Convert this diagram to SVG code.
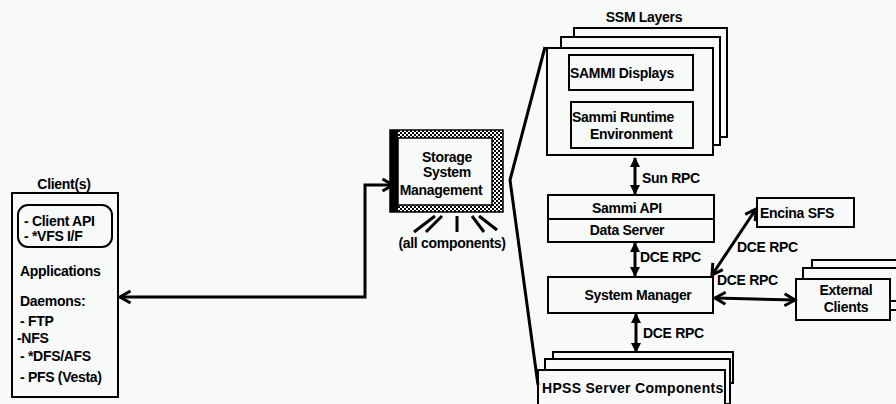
<svg xmlns="http://www.w3.org/2000/svg" width="896" height="404" viewBox="0 0 896 404">
<defs>
<style>
text{font-family:"Liberation Sans",Arial,sans-serif;font-weight:bold;font-size:14px;fill:#000;letter-spacing:-0.3px}
.c{text-anchor:middle}
.box{fill:#f8f9f9;stroke:#000;stroke-width:2}
.con{fill:none;stroke:#000;stroke-width:3}
</style>
<pattern id="chk" width="4" height="4" patternUnits="userSpaceOnUse">
<rect width="4" height="4" fill="#fff"/>
<rect width="2" height="2" fill="#000"/>
<rect x="2" y="2" width="2" height="2" fill="#000"/>
</pattern>
<marker id="chev" viewBox="0 0 10 10" refX="8" refY="5" markerWidth="5" markerHeight="5" orient="auto-start-reverse" markerUnits="strokeWidth">
<path d="M1,1 L8,5 L1,9" fill="none" stroke="#000" stroke-width="2"/>
</marker>
<marker id="tri" viewBox="0 0 10 10" refX="9" refY="5" markerWidth="3.5" markerHeight="3.5" orient="auto-start-reverse" markerUnits="strokeWidth">
<path d="M0,0 L10,5 L0,10 Z" fill="#000"/>
</marker>
</defs>
<rect width="896" height="404" fill="#f8f9f9"/>

<g id="clients">
<text x="64" y="189" class="c">Client(s)</text>
<rect class="box" x="12" y="193" width="106" height="204"/>
<rect class="box" x="18" y="205" width="94" height="42" rx="10"/>
<text x="24" y="226">- Client API</text>
<text x="24" y="241">- *VFS I/F</text>
<text x="20" y="276">Applications</text>
<text x="20" y="306">Daemons:</text>
<text x="20" y="326">- FTP</text>
<text x="17" y="343">-NFS</text>
<text x="20" y="361">- *DFS/AFS</text>
<text x="20" y="382">- PFS (Vesta)</text>
</g>

<g id="ssm">
<rect x="390" y="130" width="113" height="82" fill="url(#chk)" stroke="#000" stroke-width="1.5"/>
<rect x="390" y="130" width="8" height="82" fill="#000"/>
<rect x="398" y="138" width="94" height="67" fill="#f8f9f9" stroke="#000" stroke-width="1.5"/>
<text x="447" y="162" class="c">Storage</text>
<text x="447" y="177" class="c">System</text>
<text x="441" y="195" class="c">Management</text>
<g stroke="#000" stroke-width="3" fill="none">
<line x1="435" y1="216" x2="414" y2="232"/>
<line x1="442" y1="216" x2="426" y2="232"/>
<line x1="457" y1="216" x2="457" y2="232"/>
<line x1="472" y1="216" x2="484" y2="232"/>
<line x1="479" y1="216" x2="497" y2="230"/>
</g>
<text x="452" y="248" class="c">(all components)</text>
</g>

<g id="ssm-layers">
<text x="644" y="22" class="c">SSM Layers</text>
<rect class="box" x="574" y="28" width="153" height="109"/>
<rect class="box" x="561" y="37" width="159" height="108"/>
<rect class="box" x="547" y="48" width="166" height="107"/>
</g>
<g id="sammi-displays">
<rect class="box" x="569" y="55" width="124" height="35"/>
<text x="570" y="78">SAMMI Displays</text>
</g>
<g id="sammi-runtime">
<rect class="box" x="571" y="102" width="122" height="46"/>
<text x="572" y="122">Sammi Runtime</text>
<text x="590" y="139">Environment</text>
</g>

<g id="sammi-api">
<rect class="box" x="548" y="195" width="166" height="47"/>
<line x1="548" y1="219" x2="714" y2="219" stroke="#000" stroke-width="2"/>
<text x="627" y="213" class="c">Sammi API</text>
<text x="627" y="235" class="c">Data Server</text>
</g>

<g id="system-manager">
<rect class="box" x="548" y="277" width="165" height="36"/>
<text x="638" y="300" class="c">System Manager</text>
</g>

<g id="hpss">
<rect class="box" x="553" y="352" width="180" height="31"/>
<rect class="box" x="545" y="359" width="185" height="45"/>
<rect class="box" x="538" y="370" width="187" height="40"/>
<text x="542" y="393" textLength="181">HPSS Server Components</text>
</g>

<g id="encina">
<rect class="box" x="757" y="198" width="97" height="29"/>
<text x="760" y="218">Encina SFS</text>
</g>

<g id="external-clients">
<rect class="box" x="812" y="260" width="100" height="40"/>
<rect class="box" x="803" y="268" width="100" height="42"/>
<rect class="box" x="796" y="279" width="94" height="41"/>
<line x1="890" y1="301" x2="896" y2="301" stroke="#000" stroke-width="2"/>
<text x="846" y="295" class="c">External</text>
<text x="846" y="312" class="c">Clients</text>
</g>

<g id="connectors">
<path class="con" d="M120,297 H365 V185 H393" marker-start="url(#chev)" marker-end="url(#chev)"/>
<polyline class="con" points="545,47 510,180 538,385"/>
<line class="con" x1="635" y1="158" x2="635" y2="194" marker-start="url(#tri)" marker-end="url(#tri)"/>
<line class="con" x1="635" y1="243" x2="635" y2="276" marker-start="url(#tri)" marker-end="url(#tri)"/>
<line class="con" x1="636" y1="314" x2="636" y2="352" marker-start="url(#tri)" marker-end="url(#tri)"/>
<line class="con" x1="712" y1="275" x2="756" y2="209" marker-start="url(#chev)" marker-end="url(#chev)"/>
<line class="con" x1="715" y1="298" x2="795" y2="300" marker-start="url(#chev)" marker-end="url(#chev)"/>
<text x="642" y="183">Sun RPC</text>
<text x="640" y="262">DCE RPC</text>
<text x="643" y="338">DCE RPC</text>
<text x="737" y="252">DCE RPC</text>
<text x="717" y="285">DCE RPC</text>
</g>
</svg>
